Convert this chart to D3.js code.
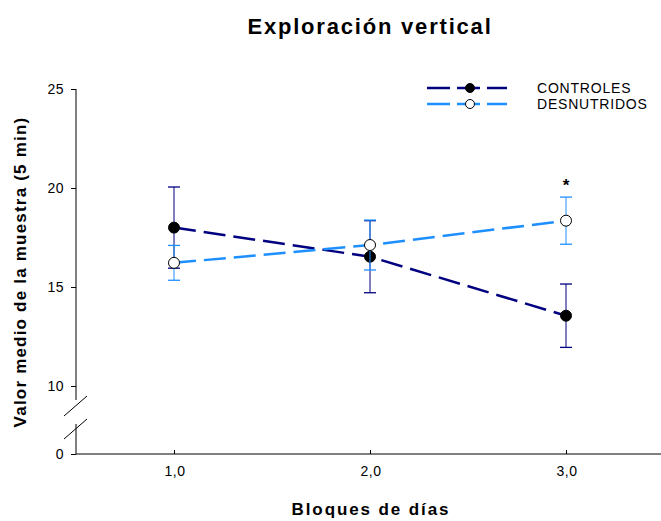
<!DOCTYPE html>
<html>
<head>
<meta charset="utf-8">
<title>Exploración vertical</title>
<style>
  body { margin: 0; background: #fff; }
  svg { font-family: "Liberation Sans", Arial, sans-serif; display: block; }
</style>
</head>
<body>
<script src="https://cdn.jsdelivr.net/npm/d3@7"></script>
<script>
// datos
var bloques = [1, 2, 3];
var tickLabels = ["1,0", "2,0", "3,0"];
var controles = [18.0, 16.53, 13.55];
var controlesErr = [2.05, 1.82, 1.6];
var desnutridos = [16.22, 17.12, 18.35];
var desnutridosErr = [0.88, 1.26, 1.19];
var yTicks = [10, 15, 20, 25];

var width = 661, height = 521;
var dark = "#000080", light = "#1e8fff";
var fuente = "Liberation Sans, Arial, sans-serif";

var svg = d3.select("body").append("svg")
    .attr("width", width)
    .attr("height", height);

var x = d3.scaleLinear().domain([0.5, 3.5]).range([76, 664]);
// eje y con corte: tramo superior 10-25, tramo inferior solo 0
var y = d3.scaleLinear().domain([10, 25]).range([386, 89]);
var y0 = d3.scaleLinear().domain([0, 5]).range([454, 355]);

// eje x
svg.append("g")
    .attr("transform", "translate(0,454)")
    .call(d3.axisTop(x).tickValues(bloques).tickSize(4).tickFormat(() => ""))
    .call(g => g.select(".domain").attr("d", "M76,0H661"))
    .call(g => g.selectAll("line").attr("stroke", "#000"));

svg.append("g").selectAll("text")
  .data(bloques)
  .join("text")
    .attr("x", d => x(d) + 1)
    .attr("y", 476)
    .attr("text-anchor", "middle")
    .attr("font-size", 14)
    .attr("letter-spacing", 0.5)
    .text((d, i) => tickLabels[i]);

// eje y superior
svg.append("g")
    .attr("transform", "translate(76,0)")
    .call(d3.axisLeft(y).tickValues(yTicks).tickSize(5).tickPadding(7).tickSizeOuter(0))
    .call(g => g.select(".domain").attr("d", "M0," + y(25) + "V400"))
    .call(g => g.selectAll("text").attr("font-size", 14).attr("letter-spacing", 0.5).attr("font-family", fuente));

// eje y inferior
svg.append("g")
    .attr("transform", "translate(76,0)")
    .call(d3.axisLeft(y0).tickValues([0]).tickFormat(d3.format("d")).tickSize(5).tickPadding(7).tickSizeOuter(0))
    .call(g => g.select(".domain").attr("d", "M0,424V454"))
    .call(g => g.selectAll("text").attr("font-size", 14).attr("letter-spacing", 0.5).attr("font-family", fuente));

// marcas de corte
svg.append("g")
    .attr("stroke", "#000")
    .selectAll("line")
    .data([416, 439])
    .join("line")
      .attr("x1", 64).attr("y1", d => d)
      .attr("x2", 87).attr("y2", d => d - 20);

function serie(vals, errs, color, fill) {
  var g = svg.append("g");
  // barras de error
  bloques.forEach((b, i) => {
    var cx = x(b);
    var top = y(vals[i] + errs[i]), bot = y(vals[i] - errs[i]);
    g.append("line").attr("x1", cx).attr("x2", cx).attr("y1", top).attr("y2", bot)
      .attr("stroke", color).attr("stroke-width", 1);
    [top, bot].forEach(v => g.append("line")
      .attr("x1", cx - 6).attr("x2", cx + 6).attr("y1", v).attr("y2", v)
      .attr("stroke", color).attr("stroke-width", 1.3));
  });
  g.append("path")
    .datum(vals)
    .attr("fill", "none")
    .attr("stroke", color)
    .attr("stroke-width", 2.5)
    .attr("stroke-dasharray", "22,8")
    .attr("d", d3.line().x((d, i) => x(bloques[i])).y(d => y(d)));
  g.selectAll("circle")
    .data(vals)
    .join("circle")
      .attr("cx", (d, i) => x(bloques[i]))
      .attr("cy", d => y(d))
      .attr("r", 5.5)
      .attr("fill", fill)
      .attr("stroke", "#000")
      .attr("stroke-width", 1);
}

serie(controles, controlesErr, dark, "#000");
serie(desnutridos, desnutridosErr, light, "#fff");

// asterisco
svg.append("text")
    .attr("x", x(3))
    .attr("y", y(desnutridos[2] + desnutridosErr[2]) - 6)
    .attr("text-anchor", "middle")
    .attr("font-size", 17)
    .attr("font-weight", "bold")
    .text("*");

// leyenda
var legend = [["CONTROLES", dark, "#000"], ["DESNUTRIDOS", light, "#fff"]];
var lg = svg.append("g").selectAll("g")
  .data(legend)
  .join("g")
    .attr("transform", (d, i) => "translate(0," + (88 + i * 16) + ")");
lg.append("line")
    .attr("x1", 427).attr("x2", 507)
    .attr("stroke", d => d[1])
    .attr("stroke-width", 2.5)
    .attr("stroke-dasharray", "23,7");
lg.append("circle")
    .attr("cx", 470).attr("r", 4.5)
    .attr("fill", d => d[2]).attr("stroke", "#000");
lg.append("text")
    .attr("x", 537).attr("y", 5)
    .attr("font-size", 14)
    .attr("letter-spacing", 0.8)
    .text(d => d[0]);

// títulos
svg.append("text")
    .attr("x", 370).attr("y", 34)
    .attr("text-anchor", "middle")
    .attr("font-size", 22)
    .attr("font-weight", "bold")
    .attr("letter-spacing", 1.8)
    .text("Exploración vertical");

svg.append("text")
    .attr("x", 371).attr("y", 515)
    .attr("text-anchor", "middle")
    .attr("font-size", 17)
    .attr("font-weight", "bold")
    .attr("letter-spacing", 1.9)
    .text("Bloques de días");

svg.append("text")
    .attr("transform", "translate(26,272) rotate(-90)")
    .attr("text-anchor", "middle")
    .attr("font-size", 17)
    .attr("font-weight", "bold")
    .attr("letter-spacing", 1.2)
    .text("Valor medio de la muestra (5 min)");
</script>
</body>
</html>
